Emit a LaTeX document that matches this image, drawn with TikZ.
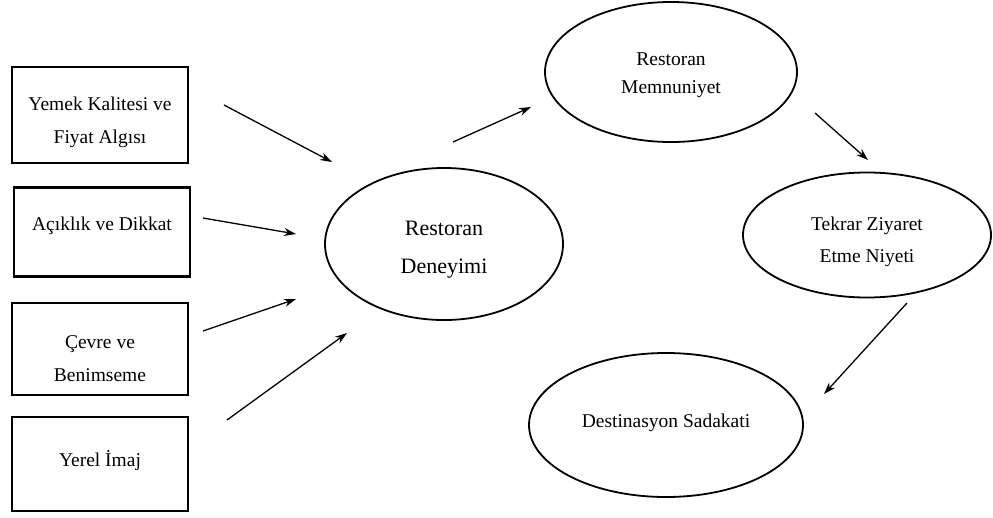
\documentclass[tikz,border=0pt]{standalone}
\usepackage{fontspec}
\setmainfont{Liberation Serif}
\usetikzlibrary{shapes.geometric,arrows.meta}
\begin{document}
\begin{tikzpicture}[x=1pt,y=-1pt,
  txt/.style={font=\fontsize{19.5}{33}\selectfont, align=center, inner sep=0pt},
  factor/.style={draw, line width=2.6pt, minimum width=176pt, inner sep=0pt},
  construct/.style={draw, ellipse, line width=1.8pt, inner sep=0pt},
  link/.style={line width=1.3pt, -{Stealth[length=12pt,width=8pt]}}
]
\useasboundingbox (0,0) rectangle (993,517);
% left boxes
\node[factor, minimum height=96pt] (b1) at (100,115) {};
\node[txt] (t1) at (100,122) {Yemek Kalitesi ve\\Fiyat Algısı};
\node[factor, minimum height=89pt] (b2) at (102,232) {};
\node[txt] (t2) at (102,226) {Açıklık ve Dikkat};
\node[factor, minimum height=92pt] (b3) at (100,349) {};
\node[txt] (t3) at (100,359) {Çevre ve\\Benimseme};
\node[factor, minimum height=94pt] (b4) at (100,464) {};
\node[txt] (t4) at (100,461) {Yerel İmaj};
% ellipses
\node[construct, minimum width=238pt, minimum height=152pt] (e1) at (444,244) {};
\node[txt, font=\fontsize{22}{38}\selectfont] (u1) at (444,250) {Restoran\\Deneyimi};
\node[construct, minimum width=252pt, minimum height=140pt] (e2) at (671,72) {};
\node[txt, font=\fontsize{19.5}{28}\selectfont] (u2) at (671,75) {Restoran\\Memnuniyet};
\node[construct, minimum width=248pt, minimum height=125pt] (e3) at (867,235) {};
\node[txt, font=\fontsize{19.5}{32}\selectfont] (u3) at (867,242) {Tekrar Ziyaret\\Etme Niyeti};
\node[construct, minimum width=274pt, minimum height=144pt] (e4) at (666,425) {};
\node[txt] (u4) at (666,423) {Destinasyon Sadakati};
% arrow end points
\coordinate (a1s) at (224,105); \coordinate (a1e) at (332,162);
\coordinate (a2s) at (203,218); \coordinate (a2e) at (296,234);
\coordinate (a3s) at (203,331); \coordinate (a3e) at (296,299);
\coordinate (a4s) at (227,420); \coordinate (a4e) at (347,333);
\coordinate (a5s) at (453,142); \coordinate (a5e) at (531,107);
\coordinate (a6s) at (815,113); \coordinate (a6e) at (868,160);
\coordinate (a7s) at (907,303); \coordinate (a7e) at (824,394);
\draw[link] (a1s) -- (a1e);
\draw[link] (a2s) -- (a2e);
\draw[link] (a3s) -- (a3e);
\draw[link] (a4s) -- (a4e);
\draw[link] (a5s) -- (a5e);
\draw[link] (a6s) -- (a6e);
\draw[link] (a7s) -- (a7e);
\end{tikzpicture}
\end{document}
